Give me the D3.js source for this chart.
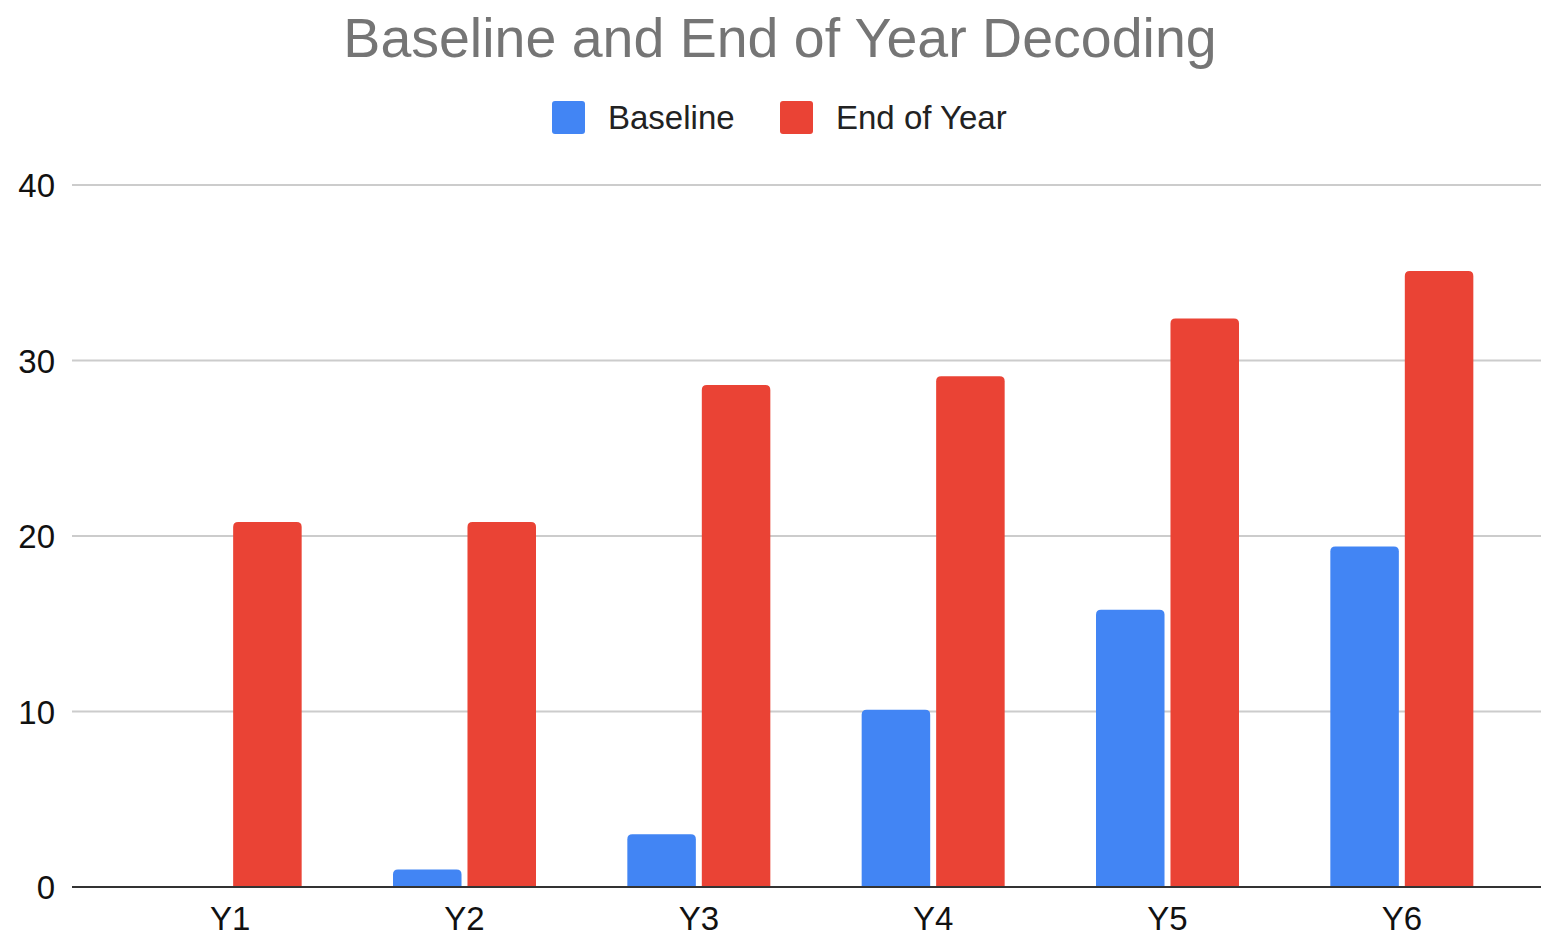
<!DOCTYPE html>
<html>
<head>
<meta charset="utf-8">
<script src="https://cdn.jsdelivr.net/npm/d3@7"></script>
<style>
  html, body { margin: 0; padding: 0; background: #fff; }
  svg { display: block; font-family: "Liberation Sans", Arial, sans-serif; }
</style>
</head>
<body>
<svg id="chart" width="1541" height="935"></svg>
<script>
const categories = ["Y1", "Y2", "Y3", "Y4", "Y5", "Y6"];
const seriesNames = ["Baseline", "End of Year"];
const baseline = [0, 1, 3, 10.1, 15.8, 19.4];
const endOfYear = [20.8, 20.8, 28.6, 29.1, 32.4, 35.1];
const yTicks = [0, 10, 20, 30, 40];
const colors = ["#4285f4", "#ea4335"];

const svg = d3.select("#chart");
const W = 1541, H = 935;

const y = d3.scaleLinear().domain([0, 40]).range([887, 185]);
const x = d3.scaleBand().domain(categories).range([113, 1519]).padding(0);
const groupW = 143;
const xs = d3.scaleBand().domain(seriesNames).range([0, groupW]).paddingInner(0.08);

// Title
svg.append("text")
  .attr("x", 780).attr("y", 57)
  .attr("text-anchor", "middle")
  .attr("font-size", 55.5)
  .attr("fill", "#757575")
  .text("Baseline and End of Year Decoding");

// Legend
const legend = svg.append("g");
const legendItems = [{ name: "Baseline", x: 552 }, { name: "End of Year", x: 780 }];
legendItems.forEach((it, i) => {
  legend.append("rect")
    .attr("x", it.x).attr("y", 101).attr("width", 33).attr("height", 33)
    .attr("rx", 3).attr("fill", colors[i]);
  legend.append("text")
    .attr("x", it.x + 56).attr("y", 129)
    .attr("font-size", 33).attr("fill", "#222")
    .text(it.name);
});

// Gridlines and y tick labels
const yAxis = d3.axisLeft(y).tickValues(yTicks).tickSize(0).tickPadding(0);
const gy = svg.append("g").attr("transform", "translate(55,0)").call(yAxis);
gy.select(".domain").remove();
gy.selectAll("text").attr("font-size", 33).attr("fill", "#111")
  .attr("font-family", "Liberation Sans, Arial, sans-serif").attr("dy", "0.35em");

svg.append("g").selectAll("line")
  .data(yTicks.filter(d => d !== 0))
  .join("line")
  .attr("x1", 72).attr("x2", W)
  .attr("y1", d => y(d)).attr("y2", d => y(d))
  .attr("stroke", "#cccccc").attr("stroke-width", 2);

// Bars with rounded top corners
function barPath(x0, w, yTop, yBot, r) {
  const h = yBot - yTop;
  if (h <= 0) return "";
  r = Math.min(r, h, w / 2);
  return `M${x0},${yBot}V${yTop + r}Q${x0},${yTop} ${x0 + r},${yTop}` +
         `H${x0 + w - r}Q${x0 + w},${yTop} ${x0 + w},${yTop + r}V${yBot}Z`;
}

const data = categories.map((c, i) => ({ cat: c, vals: [baseline[i], endOfYear[i]] }));
const groups = svg.append("g").selectAll("g")
  .data(data).join("g")
  .attr("transform", d => `translate(${x(d.cat) + (x.bandwidth() - groupW) / 2},0)`);

groups.selectAll("path")
  .data(d => d.vals.map((v, j) => ({ v, s: seriesNames[j], j })))
  .join("path")
  .attr("d", d => barPath(xs(d.s), xs.bandwidth(), y(d.v), y(0), 5))
  .attr("fill", d => colors[d.j]);

// Baseline axis
svg.append("line")
  .attr("x1", 72).attr("x2", W)
  .attr("y1", y(0)).attr("y2", y(0))
  .attr("stroke", "#333").attr("stroke-width", 2);

// X labels
const xAxis = d3.axisBottom(x).tickSize(0).tickPadding(0);
const gx = svg.append("g").attr("transform", `translate(0,${y(0)})`).call(xAxis);
gx.select(".domain").remove();
gx.selectAll("text").attr("font-size", 33).attr("fill", "#111")
  .attr("font-family", "Liberation Sans, Arial, sans-serif")
  .attr("dy", "0").attr("y", 43);
</script>
</body>
</html>
